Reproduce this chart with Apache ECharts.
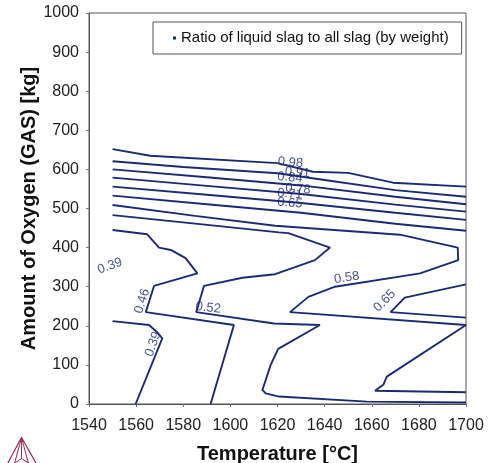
<!DOCTYPE html>
<html>
<head>
<meta charset="utf-8">
<script src="https://cdn.jsdelivr.net/npm/echarts@6/dist/echarts.min.js"></script>
<style>
  html, body { margin: 0; padding: 0; background: #fff; }
  #chart { width: 490px; height: 463px; }
</style>
</head>
<body>
<div id="chart"></div>
<script>
// Contour lines of the liquid slag ratio: [temperature °C, oxygen kg]
const level098 = [[1550,652],[1566,635],[1620,616],[1635,594],[1650,591],[1669,566],[1700,556]];
const level091 = [[1550,621],[1580,606],[1620,590],[1640,573],[1670,547],[1700,530]];
const level084 = [[1550,600],[1590,580],[1630,559],[1670,530],[1700,511]];
const level078 = [[1550,579],[1590,558],[1630,537],[1670,510],[1700,492]];
const level071 = [[1550,556],[1590,535],[1630,514],[1670,489],[1700,471]];
const level065a = [[1550,533],[1590,511],[1630,489],[1670,461],[1700,443]];
const level065b = [[1700,306],[1674,272],[1668,235],[1700,221]];
const level058 = [[1550,509],[1585,481],[1619,456],[1672,433],[1696.5,400],[1696.7,368],[1680.5,334],
                  [1644.4,300],[1633.1,274],[1625.3,235],[1700,202],[1666.4,70],[1664.9,49],
                  [1661.4,34],[1700,30]];
const level052 = [[1550,483],[1590.2,458],[1620.6,439],[1624.6,437],[1642.3,400],[1635.9,368],
                  [1619,332],[1605.1,323],[1588.8,302],[1585.5,235],[1618.5,206],[1638,202],
                  [1620.3,141],[1617.1,100],[1613.6,36],[1615,27],[1620.6,19],[1657.9,6],[1700,4]];
const level046 = [[1550,445],[1564.7,434],[1569.7,400],[1574.7,394],[1581,373],[1586,334],
                  [1567.6,302],[1564.1,235],[1601.5,202],[1591.6,0]];
const level039 = [[1550,212],[1565.5,202],[1569,183],[1571.1,168],[1559.8,0]];

// Contour level labels and where they sit
const labelTexts = ['0.98','0.91','0.84','0.78','0.71','0.65','0.58','0.65','0.52','0.46','0.39','0.39'];
const labelTemps = [1625.5,1628.5,1625.3,1628.7,1625.3,1625.3,1649.4,1665.5,1590.6,1562.6,1567.2,1548.9];
const labelOxygen = [617.6,592,579.3,549.9,537.1,514,323,264,246,263,153,353];
const labelAngles = [-5,-5,-5,-5,-5,-5,9,45,-6,72,70,20];

const seriesName = 'Ratio of liquid slag to all slag (by weight)';
const FONT = '"Liberation Sans", Arial, Helvetica, sans-serif';
const NAVY = '#1c2a74';

const contours = [level098, level091, level084, level078, level071, level065a, level065b,
                  level058, level052, level046, level039];

const chart = echarts.init(document.getElementById('chart'), null, { renderer: 'canvas' });

const series = contours.map(pts => ({
  name: seriesName,
  type: 'line',
  data: pts,
  showSymbol: false,
  symbol: 'none',
  lineStyle: { color: NAVY, width: 1.9 },
  itemStyle: { color: NAVY },
  silent: true,
  animation: false
}));

series.push({
  name: 'levels',
  type: 'scatter',
  symbolSize: 0,
  silent: true,
  animation: false,
  data: labelTexts.map((t, i) => ({
    name: t,
    value: [labelTemps[i], labelOxygen[i]],
    label: { rotate: labelAngles[i] }
  })),
  label: {
    show: true,
    position: 'inside',
    formatter: p => p.name,
    color: NAVY,
    fontSize: 13,
    fontFamily: FONT
  }
});

chart.setOption({
  animation: false,
  backgroundColor: '#fff',
  textStyle: { fontFamily: FONT },
  grid: {
    left: 89, top: 13, width: 377, height: 391,
    outerBoundsMode: 'none',
    containLabel: false,
    show: true, borderColor: '#555', borderWidth: 1, backgroundColor: '#fff'
  },
  legend: {
    data: [{ name: seriesName, icon: 'rect' }],
    left: 153, top: 22,
    padding: [8, 13, 8, 20],
    borderColor: '#555', borderWidth: 1, backgroundColor: '#fff',
    itemWidth: 3, itemHeight: 3,
    selectedMode: false,
    textStyle: { fontSize: 15, color: '#111', fontFamily: FONT, lineHeight: 16 }
  },
  xAxis: {
    type: 'value', min: 1540, max: 1700, interval: 20,
    name: 'Temperature [°C]', nameLocation: 'middle', nameGap: 40,
    nameMoveOverlap: false,
    nameTextStyle: { fontSize: 20, fontWeight: 'bold', color: '#111', fontFamily: FONT },
    axisLine: { show: true, lineStyle: { color: '#555', width: 1 } },
    axisTick: { show: true, length: 3, lineStyle: { color: '#777' } },
    axisLabel: { fontSize: 16, color: '#222', margin: 14, fontFamily: FONT, formatter: v => String(v) },
    splitLine: { show: false }
  },
  yAxis: {
    type: 'value', min: 0, max: 1000, interval: 100,
    name: 'Amount of Oxygen (GAS) [kg]', nameLocation: 'middle', nameGap: 50,
    nameMoveOverlap: false,
    nameTextStyle: { fontSize: 20, fontWeight: 'bold', color: '#111', fontFamily: FONT },
    axisLine: { show: true, lineStyle: { color: '#555', width: 1 } },
    axisTick: { show: true, length: 3, lineStyle: { color: '#777' } },
    axisLabel: { fontSize: 16, color: '#222', margin: 10, fontFamily: FONT, formatter: v => String(v) },
    splitLine: { show: false }
  },
  graphic: [{
    type: 'group', left: 3, top: 435, silent: true,
    children: [
      { type: 'polyline', shape: { points: [[16,0],[0,30],[33,30],[16,0]] }, style: { stroke: '#9e2a4f', lineWidth: 1.2, fill: null } },
      { type: 'polyline', shape: { points: [[16,0],[8,30]] }, style: { stroke: '#9e2a4f', lineWidth: 1, fill: null } },
      { type: 'polyline', shape: { points: [[16,0],[24,30]] }, style: { stroke: '#9e2a4f', lineWidth: 1, fill: null } },
      { type: 'polyline', shape: { points: [[16,0],[16,21]] }, style: { stroke: '#9e2a4f', lineWidth: 1, fill: null } },
      { type: 'polyline', shape: { points: [[6,28],[16,21],[27,28]] }, style: { stroke: '#9e2a4f', lineWidth: 1, fill: null } }
    ]
  }],
  series: series
});
</script>
</body>
</html>
